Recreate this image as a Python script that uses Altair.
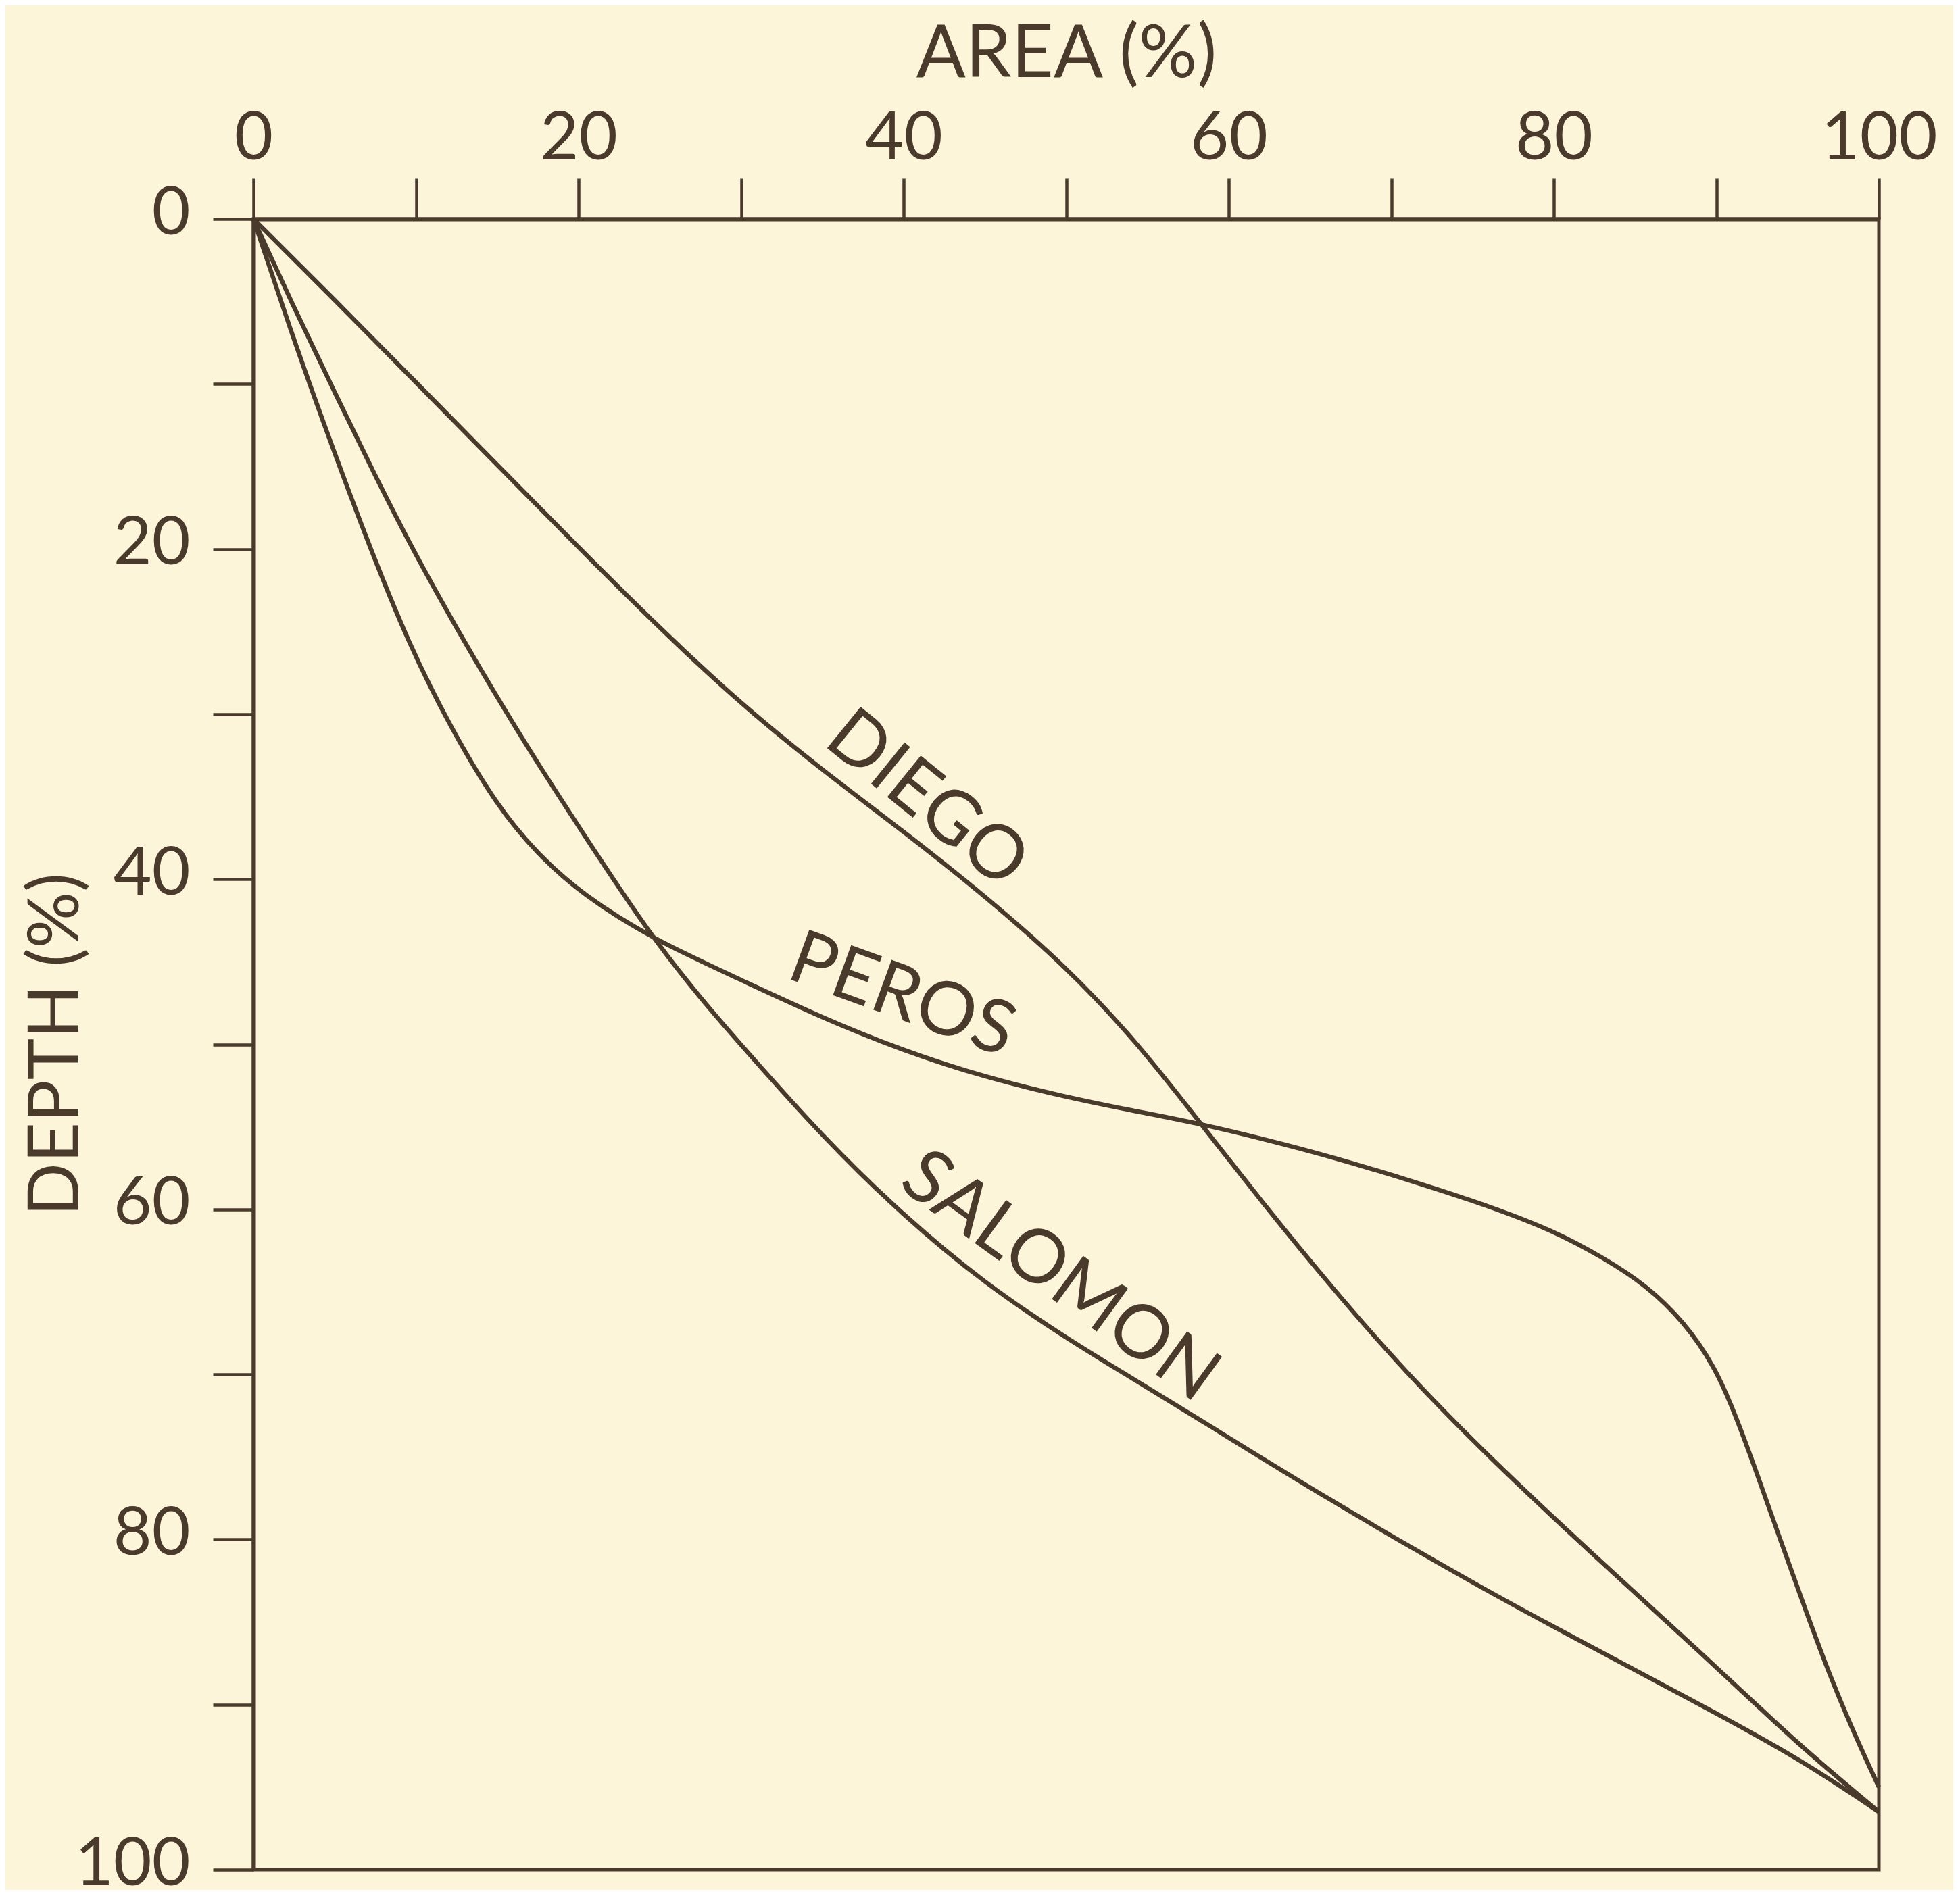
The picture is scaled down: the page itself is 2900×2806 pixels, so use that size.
import altair as alt
import pandas as pd

INK = "#4a3a2c"
PAPER = "#fcf5da"
FONT = "Lato"

# ---- data ----
diego_area = [0, 5, 10, 15, 20, 25, 30, 35, 40, 45, 50, 54.3, 58.2, 62, 66.3, 71, 76, 82.5, 89, 95, 100]
diego_depth = [0, 4.9, 9.9, 14.9, 19.9, 24.8, 29.4, 33.4, 37.1, 41.0, 45.3, 49.8, 54.7, 59.5, 64.7, 70.0, 75.0, 81.0, 86.8, 92.4, 96.5]

peros_area = [0, 2.4, 4.8, 7.2, 9.5, 12, 15, 17.5, 20.2, 24.5, 30, 35, 40, 45, 50, 54, 58.2, 62, 66.3, 72, 76, 80, 83, 85.7, 88, 89.9, 91.2, 92.5, 94, 95.5, 97, 98.5, 100]
peros_depth = [0, 7.1, 13.7, 20.0, 25.6, 30.6, 35.6, 38.5, 40.9, 43.6, 46.1, 48.4, 50.4, 52.0, 53.2, 54.0, 54.8, 55.7, 56.8, 58.5, 59.8, 61.3, 62.9, 64.6, 66.8, 69.5, 72.5, 76.0, 80.2, 84.3, 88.3, 91.8, 95.0]

salomon_area = [0, 2.5, 5, 7.5, 10, 12.5, 15, 17.5, 20, 24.4, 28, 30.15, 35, 40, 45, 50, 54, 58, 66, 76, 82.5, 89, 95, 100]
salomon_depth = [0, 5.4, 10.5, 15.6, 20.4, 24.8, 29.0, 33.0, 36.8, 43.4, 47.8, 50.2, 55.6, 60.4, 64.5, 67.8, 70.2, 72.6, 77.5, 83.2, 86.6, 90.0, 93.2, 96.5]

label_names = ["DIEGO", "PEROS", "SALOMON"]
label_area = [41.4, 39.9, 49.6]
label_depth = [35.2, 47.1, 64.1]
label_angle = [39, 20, 36]

tick_values = [0, 10, 20, 30, 40, 50, 60, 70, 80, 90, 100]

rows = []
for name, xs, ys in [("Diego", diego_area, diego_depth),
                     ("Peros", peros_area, peros_depth),
                     ("Salomon", salomon_area, salomon_depth)]:
    for i, (a, d) in enumerate(zip(xs, ys)):
        rows.append({"lake": name, "area": a, "depth": d, "order": i})
df = pd.DataFrame(rows)

lab_df = pd.DataFrame({"name": label_names, "area": label_area,
                       "depth": label_depth, "angle": label_angle})

x_scale = alt.Scale(domain=[0, 100], nice=False, zero=False)
y_scale = alt.Scale(domain=[0, 100], reverse=True, nice=False, zero=False)

label_expr = "datum.value % 20 == 0 ? datum.label : ''"

x_axis = alt.Axis(orient="top", title="AREA (%)", values=tick_values, labelExpr=label_expr,
                  tickSize=60, tickWidth=4.5, tickColor=INK, domainColor=INK, domainWidth=6,
                  labelFontSize=99, labelColor=INK, labelFont=FONT, labelPadding=8,
                  labelAngle=0, titleFontSize=108, titleFont=FONT, titleColor=INK,
                  titleFontWeight="normal", titlePadding=20, grid=False, labelFlush=False)
y_axis = alt.Axis(orient="left", title="DEPTH (%)", values=tick_values, labelExpr=label_expr,
                  tickSize=60, tickWidth=4.5, tickColor=INK, domainColor=INK, domainWidth=6,
                  labelFontSize=98, labelColor=INK, labelFont=FONT, labelPadding=34,
                  labelBaseline="middle", labelOffset=-7, titleFontSize=104, titleFont=FONT,
                  titleColor=INK, titleFontWeight="normal", titlePadding=38, grid=False,
                  labelFlush=False)

lines = alt.Chart(df).mark_line(color=INK, strokeWidth=6.5, interpolate="basis").encode(
    x=alt.X("area:Q", scale=x_scale, axis=x_axis),
    y=alt.Y("depth:Q", scale=y_scale, axis=y_axis),
    detail="lake:N",
    order="order:Q",
)

labels = alt.Chart(lab_df).mark_text(font=FONT, fontSize=110, color=INK, baseline="middle",
                                     align="center").encode(
    x=alt.X("area:Q", scale=x_scale),
    y=alt.Y("depth:Q", scale=y_scale),
    text="name:N",
    angle=alt.Angle("angle:Q", scale=None),
)

chart = alt.layer(lines, labels).properties(
    width=2405, height=2443,
    padding={"left": 367, "top": 316, "right": 110, "bottom": 30},
    autosize=alt.AutoSizeParams(type="none"),
    background=PAPER,
).configure_view(stroke=INK, strokeWidth=5)

chart.save("out.html", embed_options={"renderer": "svg", "actions": False})
